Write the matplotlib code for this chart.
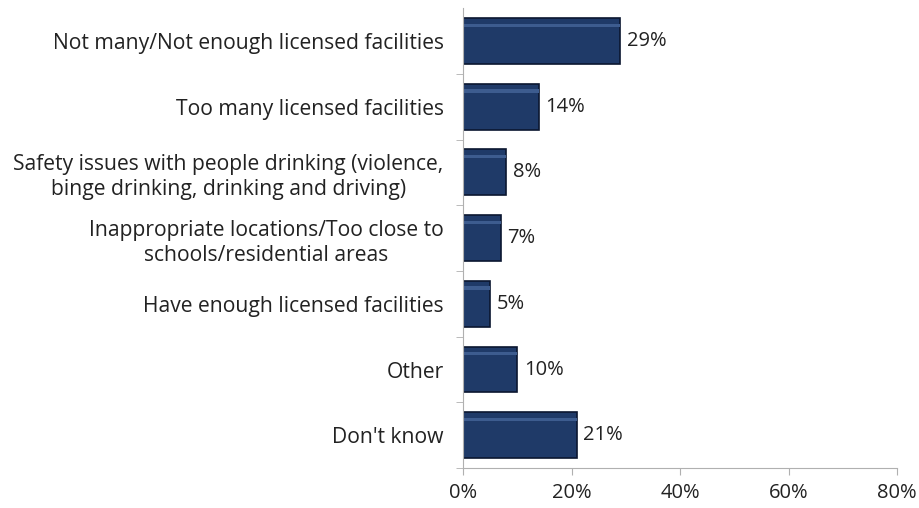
import matplotlib.pyplot as plt
from matplotlib.ticker import PercentFormatter

# survey answers, top to bottom
categories = ['Not many/Not enough licensed facilities',
              'Too many licensed facilities',
              'Safety issues with people drinking (violence,\nbinge drinking, drinking and driving)',
              'Inappropriate locations/Too close to\nschools/residential areas',
              'Have enough licensed facilities',
              'Other',
              "Don't know"]
values = [29, 14, 8, 7, 5, 10, 21]
xticks = [0, 20, 40, 60, 80]

plt.rcParams['font.family'] = ['Open Sans', 'DejaVu Sans']
fs = 14.5

fig = plt.figure(figsize=(9.19, 5.08), dpi=100)
ax = fig.add_axes([0.5038, 0.0787, 0.4723, 0.905])

ypos = list(range(len(categories)))[::-1]
ax.barh(ypos, values, height=0.7, color='#1f3a68', edgecolor='#0b1630', linewidth=1.2)
# lighter strip near the top of each bar, like the bevelled Excel look
ax.barh([y + 0.24 for y in ypos], values, height=0.05, color='#3d5c8f', linewidth=0)

for y, v in zip(ypos, values):
    ax.text(v + 1.2, y, f'{v}%', va='center', ha='left', fontsize=fs, color='#222222')

ax.set_xlim(0, 80)
ax.set_ylim(-0.5, len(categories) - 0.5)
ax.set_xticks(xticks)
ax.xaxis.set_major_formatter(PercentFormatter(decimals=0))
ax.set_yticks(ypos)
ax.set_yticklabels(categories, fontsize=15.2, color='#222222', ha='right',
                   multialignment='center', linespacing=1.25)
ax.set_yticks([y + 0.5 for y in range(len(categories) - 1)] + [-0.5], minor=True)
ax.tick_params(axis='y', which='major', length=0, pad=14)
ax.tick_params(axis='y', which='minor', length=5, color='#b0b0b0')
ax.tick_params(axis='x', length=5, color='#b0b0b0', labelsize=fs, labelcolor='#222222', pad=6)

for s in ['top', 'right']:
    ax.spines[s].set_visible(False)
for s in ['left', 'bottom']:
    ax.spines[s].set_color('#b0b0b0')

fig.savefig('out.png')
